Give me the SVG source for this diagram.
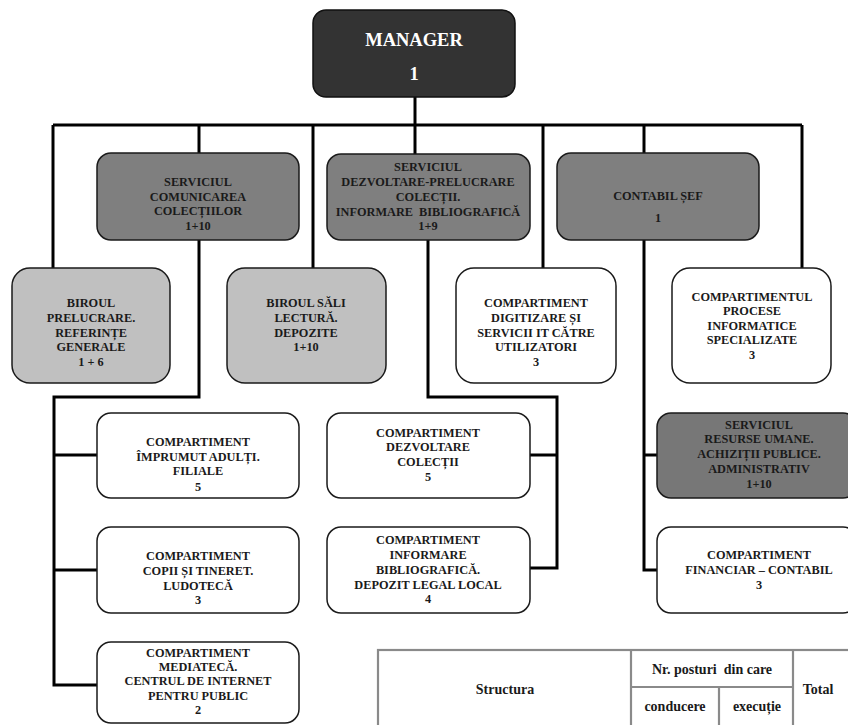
<svg xmlns="http://www.w3.org/2000/svg" width="848" height="725" viewBox="0 0 848 725">
<style>
.box{stroke:#1a1a1a;stroke-width:1.5}
.w{fill:#ffffff}
.g{fill:#7f7f7f}
.lg{fill:#c0c0c0}
.t{font-family:"Liberation Serif","Times New Roman",serif;font-size:12.3px;font-weight:bold;fill:#1a1a1a;text-anchor:middle}
.tw{font-family:"Liberation Serif","Times New Roman",serif;font-size:18.5px;font-weight:bold;fill:#ffffff;text-anchor:middle}
.conn{fill:none;stroke:#000;stroke-width:3;stroke-linejoin:miter}
.tb{fill:none;stroke:#8a8a8a;stroke-width:2.2}
.tt{font-family:"Liberation Serif","Times New Roman",serif;font-size:14px;font-weight:bold;fill:#1a1a1a;text-anchor:middle}
</style>
<rect width="848" height="725" fill="#ffffff"/>
<g id="connectors">
<path class="conn" d="M415,97 V154"/>
<path class="conn" d="M53,125 H802"/>
<path class="conn" d="M53,125 V268"/>
<path class="conn" d="M199,125 V153"/>
<path class="conn" d="M313,125 V268"/>
<path class="conn" d="M543,125 V268"/>
<path class="conn" d="M644,125 V153"/>
<path class="conn" d="M802,125 V268"/>
<path class="conn" d="M199,240 V397 H54 V685 H97"/>
<path class="conn" d="M54,455 H97"/>
<path class="conn" d="M54,570 H97"/>
<path class="conn" d="M428,240 V397 H557 V568 H530"/>
<path class="conn" d="M557,455 H530"/>
<path class="conn" d="M644,240 V570 H657"/>
<path class="conn" d="M644,455 H657"/>
</g>
<g id="manager">
<rect x="313" y="10" width="202" height="87" rx="13" fill="#333333" stroke="#111" stroke-width="1.5"/>
<text class="tw" x="414" y="46">MANAGER</text>
<text class="tw" x="414" y="80">1</text>
</g>
<g id="serviciul-comunicarea">
<rect class="box g" x="97" y="153" width="202" height="87" rx="14"/>
<text class="t" x="198" y="186">SERVICIUL</text>
<text class="t" x="198" y="200.5">COMUNICAREA</text>
<text class="t" x="198" y="215">COLECȚIILOR</text>
<text class="t" x="198" y="229.5">1+10</text>
</g>
<g id="serviciul-dezvoltare">
<rect class="box g" x="327" y="154" width="203" height="86" rx="14"/>
<text class="t" x="428" y="171">SERVICIUL</text>
<text class="t" x="428" y="186">DEZVOLTARE-PRELUCRARE</text>
<text class="t" x="428" y="201">COLECȚII.</text>
<text class="t" x="428" y="216" xml:space="preserve">INFORMARE  BIBLIOGRAFICĂ</text>
<text class="t" x="428" y="230">1+9</text>
</g>
<g id="contabil-sef">
<rect class="box g" x="557" y="153" width="202" height="87" rx="14"/>
<text class="t" x="658" y="200">CONTABIL ȘEF</text>
<text class="t" x="658" y="222">1</text>
</g>
<g id="biroul-prelucrare">
<rect class="box lg" x="12" y="268" width="158" height="115" rx="18"/>
<text class="t" x="91" y="307">BIROUL</text>
<text class="t" x="91" y="322">PRELUCRARE.</text>
<text class="t" x="91" y="337">REFERINȚE</text>
<text class="t" x="91" y="351">GENERALE</text>
<text class="t" x="91" y="366">1 + 6</text>
</g>
<g id="biroul-sali">
<rect class="box lg" x="227" y="268" width="159" height="115" rx="18"/>
<text class="t" x="306" y="307">BIROUL SĂLI</text>
<text class="t" x="306" y="322">LECTURĂ.</text>
<text class="t" x="306" y="337">DEPOZITE</text>
<text class="t" x="306" y="351">1+10</text>
</g>
<g id="compartiment-digitizare">
<rect class="box w" x="456" y="268" width="160" height="115" rx="18"/>
<text class="t" x="536" y="307">COMPARTIMENT</text>
<text class="t" x="536" y="322">DIGITIZARE ȘI</text>
<text class="t" x="536" y="337">SERVICII IT CĂTRE</text>
<text class="t" x="536" y="351">UTILIZATORI</text>
<text class="t" x="536" y="366">3</text>
</g>
<g id="compartimentul-procese">
<rect class="box w" x="672" y="268" width="159" height="115" rx="18"/>
<text class="t" x="752" y="301">COMPARTIMENTUL</text>
<text class="t" x="752" y="315">PROCESE</text>
<text class="t" x="752" y="330">INFORMATICE</text>
<text class="t" x="752" y="344">SPECIALIZATE</text>
<text class="t" x="752" y="359">3</text>
</g>
<g id="compartiment-imprumut">
<rect class="box w" x="97" y="413" width="202" height="85" rx="14"/>
<text class="t" x="198" y="446">COMPARTIMENT</text>
<text class="t" x="198" y="461">ÎMPRUMUT ADULȚI.</text>
<text class="t" x="198" y="475">FILIALE</text>
<text class="t" x="198" y="491">5</text>
</g>
<g id="compartiment-copii">
<rect class="box w" x="97" y="527" width="202" height="86" rx="14"/>
<text class="t" x="198" y="560">COMPARTIMENT</text>
<text class="t" x="198" y="575">COPII ȘI TINERET.</text>
<text class="t" x="198" y="590">LUDOTECĂ</text>
<text class="t" x="198" y="604">3</text>
</g>
<g id="compartiment-mediateca">
<rect class="box w" x="97" y="642" width="202" height="81" rx="14"/>
<text class="t" x="198" y="657">COMPARTIMENT</text>
<text class="t" x="198" y="671">MEDIATECĂ.</text>
<text class="t" x="198" y="685">CENTRUL DE INTERNET</text>
<text class="t" x="198" y="700">PENTRU PUBLIC</text>
<text class="t" x="198" y="714">2</text>
</g>
<g id="compartiment-dezvoltare">
<rect class="box w" x="327" y="413" width="203" height="85" rx="14"/>
<text class="t" x="428" y="437">COMPARTIMENT</text>
<text class="t" x="428" y="451">DEZVOLTARE</text>
<text class="t" x="428" y="466">COLECȚII</text>
<text class="t" x="428" y="481">5</text>
</g>
<g id="compartiment-informare">
<rect class="box w" x="327" y="527" width="203" height="86" rx="14"/>
<text class="t" x="428" y="544">COMPARTIMENT</text>
<text class="t" x="428" y="559">INFORMARE</text>
<text class="t" x="428" y="574">BIBLIOGRAFICĂ.</text>
<text class="t" x="428" y="589">DEPOZIT LEGAL LOCAL</text>
<text class="t" x="428" y="603">4</text>
</g>
<g id="serviciul-resurse-umane">
<rect class="box" fill="#777777" x="657" y="413" width="200" height="85" rx="14"/>
<text class="t" x="759" y="429">SERVICIUL</text>
<text class="t" x="759" y="443">RESURSE UMANE.</text>
<text class="t" x="759" y="458">ACHIZIȚII PUBLICE.</text>
<text class="t" x="759" y="473">ADMINISTRATIV</text>
<text class="t" x="759" y="488">1+10</text>
</g>
<g id="compartiment-financiar">
<rect class="box w" x="657" y="527" width="200" height="86" rx="14"/>
<text class="t" x="759" y="559">COMPARTIMENT</text>
<text class="t" x="759" y="574">FINANCIAR – CONTABIL</text>
<text class="t" x="759" y="589">3</text>
</g>
<g id="table">
<rect class="tb" x="378" y="650" width="480" height="90"/>
<path class="tb" d="M631,650 V740 M793,650 V740 M631,687 H793 M719,687 V740"/>
<text class="tt" x="505" y="694">Structura</text>
<text class="tt" x="712" y="674" font-size="15" xml:space="preserve">Nr. posturi  din care</text>
<text class="tt" x="675" y="711" font-size="13">conducere</text>
<text class="tt" x="757" y="711" font-size="13">execuție</text>
<text class="tt" x="818" y="694">Total</text>
</g>
</svg>
